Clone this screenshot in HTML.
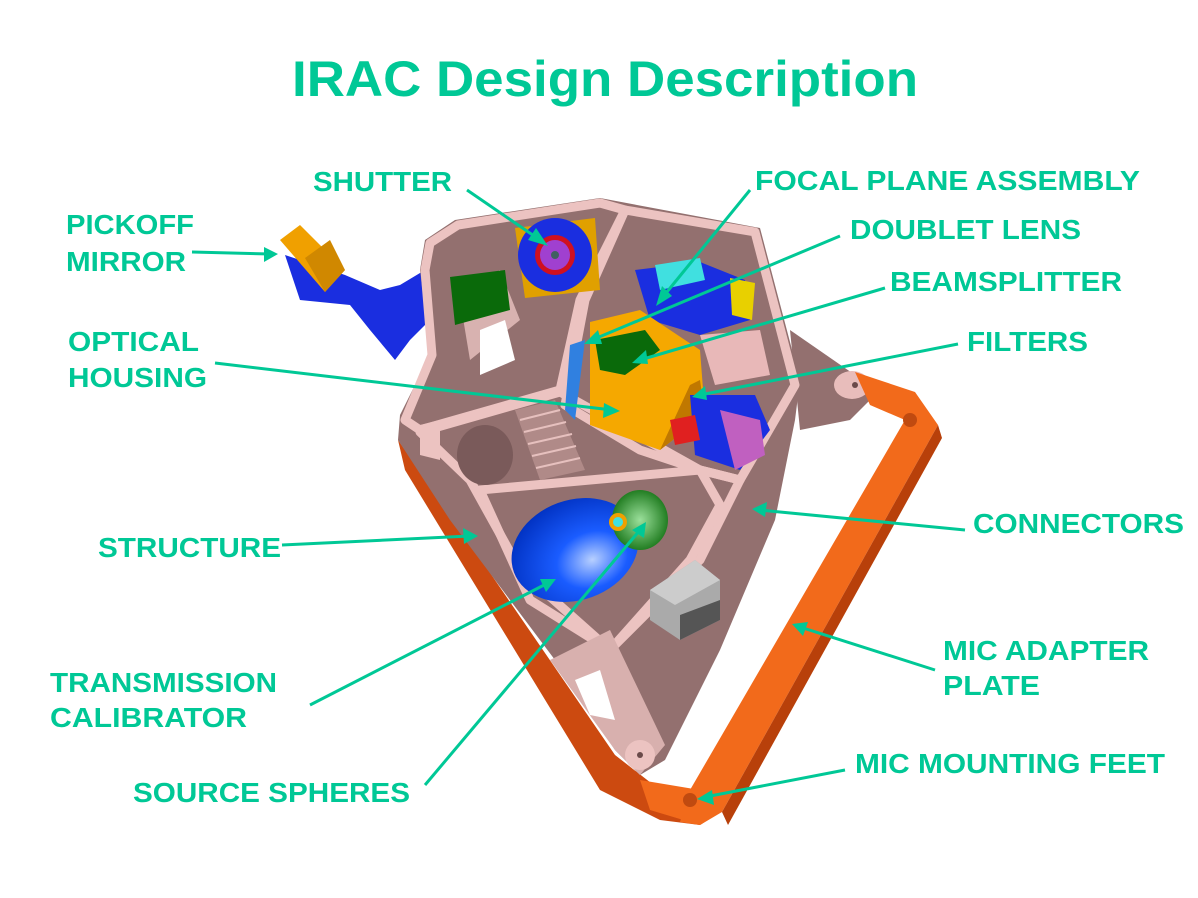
<!DOCTYPE html>
<html><head><meta charset="utf-8"><style>
html,body{margin:0;padding:0;background:#fff;}
svg{display:block;}
text{font-family:"Liberation Sans",Arial,sans-serif;font-weight:bold;fill:#00C896;}
</style></head><body>
<svg width="1198" height="898" viewBox="0 0 1198 898" xmlns="http://www.w3.org/2000/svg">
<defs>
<radialGradient id="sph" cx="0.6" cy="0.65" r="0.7"><stop offset="0" stop-color="#b8d0ff"/><stop offset="0.4" stop-color="#1a5cff"/><stop offset="1" stop-color="#0030c0"/></radialGradient>
<radialGradient id="grn" cx="0.5" cy="0.5" r="0.6"><stop offset="0" stop-color="#9be09b"/><stop offset="1" stop-color="#0a6a0a"/></radialGradient>
</defs>
<text x="292" y="96" font-size="50" textLength="626" lengthAdjust="spacingAndGlyphs">IRAC Design Description</text>

<polygon points="285,255 300,300 350,305 370,330 395,360 410,340 430,320 425,270 400,285 380,290 345,275" fill="#1a2ee0"/>
<polygon points="280,240 300,225 345,270 325,292" fill="#f0a000"/>
<polygon points="305,258 330,240 345,270 325,292" fill="#d08800"/>

<polygon points="398,440 405,470 600,790 660,820 700,825 720,812 660,790 615,755 440,500" fill="#cc4a10"/>
<polygon points="425,240 455,220 600,198 760,228 800,380 795,420 775,520 720,650 690,710 665,760 640,775 615,750 555,660 450,520 398,440 400,415 430,355 420,270" fill="#93706f"/>
<polygon points="790,330 855,375 870,400 850,420 800,430" fill="#93706f"/>
<ellipse cx="852" cy="385" rx="18" ry="14" fill="#e8bdbb"/>
<circle cx="855" cy="385" r="3" fill="#6a4a4a"/>
<g fill="none" stroke="#ecc3c1" stroke-width="9" stroke-linejoin="round">
<polygon points="430,243 458,225 600,203 625,210 580,300 560,390 420,430 405,420 432,355 425,270"/>
<polygon points="625,210 755,232 795,385 740,480 700,470 640,450 565,405 585,300"/>
<polygon points="420,432 560,392 700,470 740,480 720,520 700,560 610,650 520,570 470,480"/>
<polygon points="480,490 700,470 720,505 690,560 610,650 530,600"/>
</g>
<polygon points="460,300 500,270 520,320 470,360" fill="#d8b2b0"/>
<polygon points="480,330 505,320 515,360 480,375" fill="#fff"/>
<ellipse cx="485" cy="455" rx="28" ry="30" fill="#7a5a5a"/>
<polygon points="515,410 555,400 585,470 540,480" fill="#b08a88"/>
<g stroke="#e6c0be" stroke-width="2"><line x1="520" y1="420" x2="560" y2="410"/><line x1="524" y1="432" x2="566" y2="422"/><line x1="528" y1="444" x2="572" y2="434"/><line x1="532" y1="456" x2="576" y2="446"/><line x1="536" y1="468" x2="580" y2="458"/></g>
<polygon points="550,660 610,630 665,745 640,775 615,750" fill="#d8b0ae"/>
<polygon points="575,680 600,670 615,720 590,715" fill="#fff"/>
<circle cx="640" cy="755" r="15" fill="#ecc3c1"/><circle cx="640" cy="755" r="3" fill="#6a4a4a"/>
<polygon points="420,425 440,420 440,460 420,455" fill="#ecc3c1"/>

<polygon points="855,372 915,392 938,425 722,812 700,825 680,822 690,790 905,420 870,405" fill="#f26a1b"/>
<polygon points="938,425 942,438 728,825 722,812" fill="#b8400a"/>
<polygon points="640,780 700,790 720,812 700,825 650,810" fill="#f26a1b"/>
<circle cx="910" cy="420" r="7" fill="#c04a10"/><circle cx="690" cy="800" r="7" fill="#c04a10"/>

<polygon points="515,228 595,218 600,290 525,298" fill="#e0a000"/>
<circle cx="555" cy="255" r="37" fill="#1a2ee0"/>
<circle cx="555" cy="255" r="20" fill="#d01020"/>
<circle cx="555" cy="255" r="15" fill="#a040d0"/>
<circle cx="555" cy="255" r="4" fill="#406060"/>
<polygon points="450,277 505,270 510,310 455,325" fill="#0a6a0a"/>
<polygon points="635,270 700,262 745,280 750,320 700,335 650,320" fill="#1a2ee0"/>
<polygon points="655,265 700,258 705,280 660,290" fill="#40e0e0"/>
<polygon points="730,278 755,283 752,320 732,315" fill="#e8d000"/>
<polygon points="590,322 640,310 700,350 705,415 660,450 590,425" fill="#f5a800"/>
<polygon points="660,450 705,415 700,380 690,385" fill="#c07800"/>
<polygon points="595,340 645,330 660,350 625,375 600,370" fill="#0a6a0a"/>
<polygon points="570,345 585,340 575,420 565,410" fill="#3080e0"/>
<polygon points="690,395 755,395 770,430 740,470 695,455" fill="#1a2ee0"/>
<polygon points="720,410 760,420 765,455 735,470" fill="#c060c0"/>
<polygon points="670,420 695,415 700,440 675,445" fill="#e02020"/>
<polygon points="700,335 760,330 770,375 715,385" fill="#e8b8b8"/>
<ellipse cx="575" cy="550" rx="65" ry="50" fill="url(#sph)" transform="rotate(-20 575 550)"/>
<ellipse cx="640" cy="520" rx="28" ry="30" fill="url(#grn)"/>
<circle cx="618" cy="522" r="9" fill="#f0a000"/><circle cx="618" cy="522" r="5" fill="#40e0e0"/>
<polygon points="650,590 695,560 720,580 720,620 680,640 650,620" fill="#aaa"/>
<polygon points="650,590 695,560 720,580 675,605" fill="#ccc"/>
<polygon points="680,640 720,620 720,600 680,615" fill="#555"/>

<g stroke="#00C896" stroke-width="3" fill="none">
<line x1="467" y1="190" x2="540" y2="240"/>
<line x1="750" y1="190" x2="662" y2="298"/>
<line x1="840" y1="236" x2="592" y2="340"/>
<line x1="885" y1="288" x2="640" y2="360"/>
<line x1="958" y1="344" x2="700" y2="395"/>
<line x1="192" y1="252" x2="270" y2="254"/>
<line x1="215" y1="363" x2="612" y2="410"/>
<line x1="282" y1="545" x2="470" y2="536"/>
<line x1="965" y1="530" x2="760" y2="510"/>
<line x1="310" y1="705" x2="548" y2="583"/>
<line x1="425" y1="785" x2="640" y2="530"/>
<line x1="935" y1="670" x2="800" y2="627"/>
<line x1="845" y1="770" x2="705" y2="797"/>
</g>
<g fill="#00C896">
<polygon points="548,246 528,240 536,228"/>
<polygon points="656,306 662,286 672,296"/>
<polygon points="584,344 598,330 602,344"/>
<polygon points="632,363 646,350 648,364"/>
<polygon points="692,397 705,386 707,400"/>
<polygon points="278,254 264,247 264,262"/>
<polygon points="620,411 604,403 603,418"/>
<polygon points="478,536 463,528 464,544"/>
<polygon points="752,509 767,502 765,517"/>
<polygon points="556,579 540,579 546,592"/>
<polygon points="646,522 632,530 644,538"/>
<polygon points="792,624 808,622 803,636"/>
<polygon points="697,799 712,790 714,805"/>
</g>

<g font-size="28" lengthAdjust="spacingAndGlyphs">
<text x="313" y="191" textLength="139" lengthAdjust="spacingAndGlyphs">SHUTTER</text>
<text x="755" y="190" textLength="385" lengthAdjust="spacingAndGlyphs">FOCAL PLANE ASSEMBLY</text>
<text x="850" y="239" textLength="231" lengthAdjust="spacingAndGlyphs">DOUBLET LENS</text>
<text x="890" y="291" textLength="232" lengthAdjust="spacingAndGlyphs">BEAMSPLITTER</text>
<text x="967" y="351" textLength="121" lengthAdjust="spacingAndGlyphs">FILTERS</text>
<text x="66" y="234" textLength="128" lengthAdjust="spacingAndGlyphs">PICKOFF</text>
<text x="66" y="271" textLength="120" lengthAdjust="spacingAndGlyphs">MIRROR</text>
<text x="68" y="351" textLength="131" lengthAdjust="spacingAndGlyphs">OPTICAL</text>
<text x="68" y="387" textLength="139" lengthAdjust="spacingAndGlyphs">HOUSING</text>
<text x="98" y="557" textLength="183" lengthAdjust="spacingAndGlyphs">STRUCTURE</text>
<text x="973" y="533" textLength="211" lengthAdjust="spacingAndGlyphs">CONNECTORS</text>
<text x="50" y="692" textLength="227" lengthAdjust="spacingAndGlyphs">TRANSMISSION</text>
<text x="50" y="727" textLength="197" lengthAdjust="spacingAndGlyphs">CALIBRATOR</text>
<text x="133" y="802" textLength="277" lengthAdjust="spacingAndGlyphs">SOURCE SPHERES</text>
<text x="943" y="660" textLength="206" lengthAdjust="spacingAndGlyphs">MIC ADAPTER</text>
<text x="943" y="695" textLength="97" lengthAdjust="spacingAndGlyphs">PLATE</text>
<text x="855" y="773" textLength="310" lengthAdjust="spacingAndGlyphs">MIC MOUNTING FEET</text>
</g>
</svg>
</body></html>
